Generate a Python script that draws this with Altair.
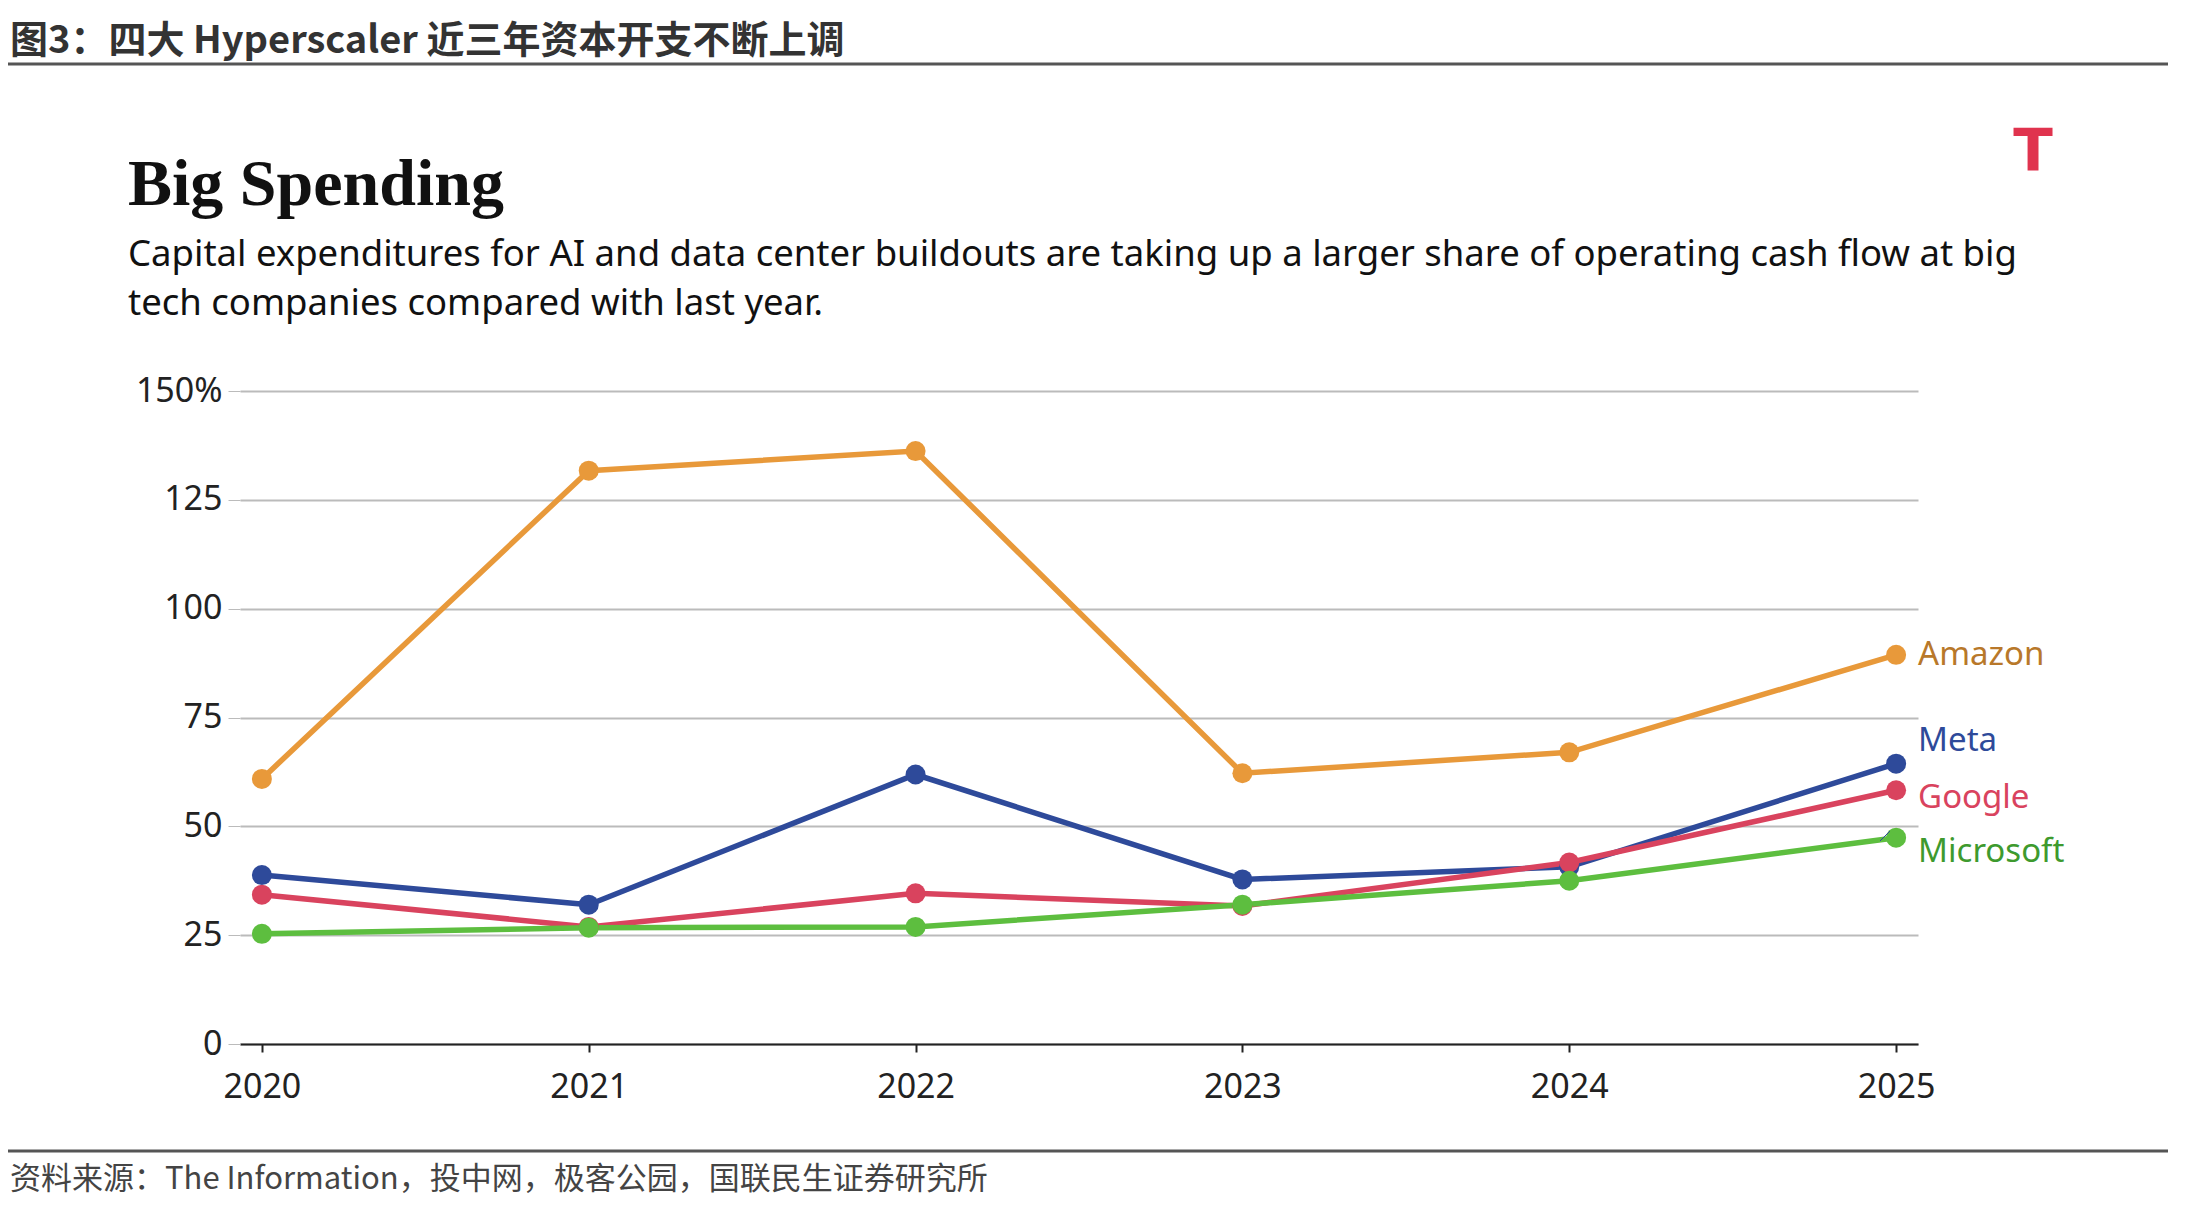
import altair as alt
import pandas as pd

years = [2020, 2021, 2022, 2023, 2024, 2025]
companies = ["Amazon", "Meta", "Google", "Microsoft"]
amazon = [60.9, 131.7, 136.2, 62.2, 67.0, 89.4]
meta = [38.8, 32.0, 61.9, 37.8, 40.7, 64.4]
google = [34.3, 26.9, 34.6, 31.7, 41.7, 58.3]
microsoft = [25.3, 26.7, 26.9, 32.0, 37.5, 47.4]
label_pos = [89.4, 69.5, 56.5, 44.0]
colors = ["#E8993A", "#2E4A9A", "#D9435E", "#5DBE3F"]
label_colors = ["#B8782A", "#2E4A9A", "#D9435E", "#3E9A2E"]

rows = []
for name, vals in zip(companies, [amazon, meta, google, microsoft]):
    for y, v in zip(years, vals):
        rows.append({"year": y, "value": v, "company": name})
df = pd.DataFrame(rows)
labels = pd.DataFrame({"lab": companies, "year": [2025] * 4, "value": label_pos})

x = alt.X("year:Q", scale=alt.Scale(domain=[2019.933, 2025.067], nice=False),
          axis=alt.Axis(values=years, format="d", title=None, grid=False, domain=True,
                        domainColor="#222", domainWidth=2, tickColor="#222", tickWidth=2,
                        tickSize=8, labelFontSize=34, labelColor="#222", labelPadding=18,
                        labelFont="Noto Sans"))
y = alt.Y("value:Q", scale=alt.Scale(domain=[0, 150], nice=False),
          axis=alt.Axis(values=[0, 25, 50, 75, 100, 125, 150], title=None, domain=False,
                        gridColor="#BBBBBB", gridWidth=2, tickColor="#BBBBBB", tickSize=12,
                        labelExpr="datum.value == 150 ? '150%' : datum.label",
                        labelFontSize=34, labelColor="#222", labelPadding=6,
                        labelFont="Noto Sans"))
color = alt.Color("company:N", scale=alt.Scale(domain=companies, range=colors), legend=None)

lines = alt.Chart(df).mark_line(strokeWidth=5.5).encode(x=x, y=y, color=color)
points = alt.Chart(df).mark_circle(size=400, opacity=1).encode(x=x, y=y, color=color)
series = alt.layer(lines, points)
text = alt.Chart(labels).mark_text(align="left", dx=22, fontSize=33, font="Noto Sans").encode(
    x=x, y=y, text="lab:N",
    color=alt.Color("lab:N", scale=alt.Scale(domain=companies, range=label_colors), legend=None))
leader = alt.Chart(pd.DataFrame({"a": [0]})).mark_rule(color="#2E4A9A", strokeWidth=1).encode(
    x=alt.value(1640), x2=alt.value(1650), y=alt.value(450), y2=alt.value(440))


def deco(t, xx, yy, size, font, weight="normal", col="#111", align="left"):
    return alt.Chart(pd.DataFrame({"t": [t]})).mark_text(
        align=align, baseline="alphabetic", fontSize=size, font=font, fontWeight=weight,
        color=col).encode(x=alt.value(xx), y=alt.value(yy), text="t:N")


def hline(yy, col="#555", w=3):
    return alt.Chart(pd.DataFrame({"a": [0]})).mark_rule(color=col, strokeWidth=w).encode(
        x=alt.value(-233), x2=alt.value(1933), y=alt.value(yy))


header = deco("图3：四大 Hyperscaler  近三年资本开支不断上调", -230, -338, 38, "Noto Sans CJK SC", "bold", "#333")
footer = deco("资料来源：The Information，投中网，极客公园，国联民生证券研究所", -230, 798, 31, "Noto Sans CJK SC", "normal", "#444")
title = deco("Big Spending", -112, -186, 66, "Liberation Serif", "bold")
sub1 = deco("Capital expenditures for AI and data center buildouts are taking up a larger share of operating cash flow at big",
            -112, -125, 36.5, "Noto Sans")
sub2 = deco("tech companies compared with last year.", -112, -76, 36.5, "Noto Sans")
logo = deco("T", 1793, -220, 58, "DejaVu Sans", "bold", "#E0334E", "center")

chart = alt.layer(hline(-327), hline(760), header, footer, title, sub1, sub2, logo,
                  series, text, leader).resolve_scale(color="independent").properties(
    width=1678, height=653,
    autosize=alt.AutoSizeParams(type="none"),
    padding={"left": 232, "top": 383, "right": 250, "bottom": 160},
    background="white",
).configure_view(stroke=None)

chart.save("out.html", embed_options={"renderer": "svg", "actions": False})
